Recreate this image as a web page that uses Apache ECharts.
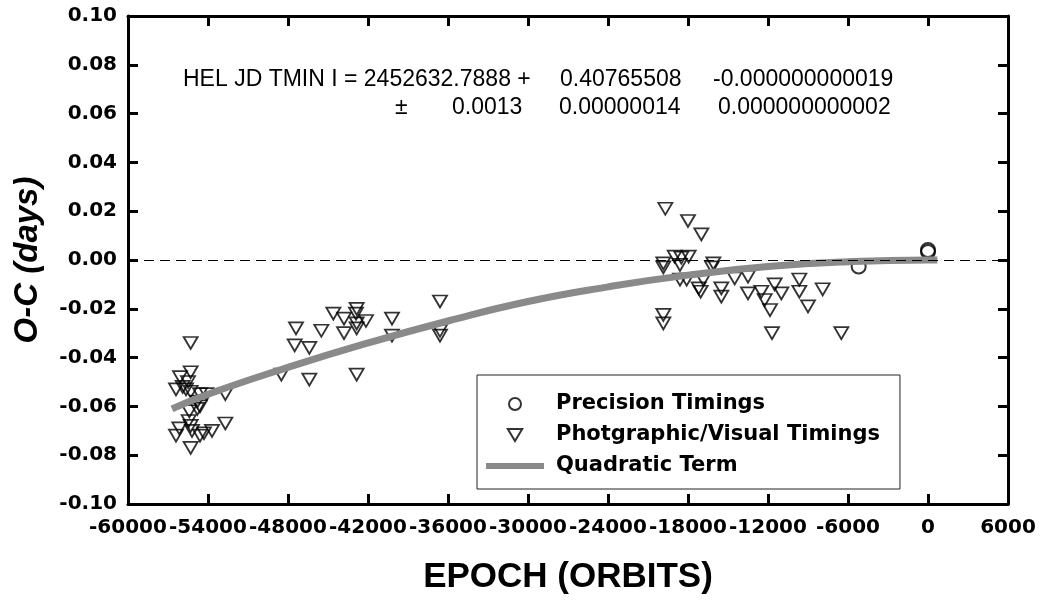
<!DOCTYPE html>
<html>
<head>
<meta charset="utf-8">
<script src="https://cdn.jsdelivr.net/npm/echarts@6/dist/echarts.min.js"></script>
<style>
  html, body { margin: 0; padding: 0; background: #fff; }
  #main { width: 1040px; height: 603px; }
</style>
</head>
<body>
<div id="main"></div>
<script>
// 精确计时（圆圈）
const precisionTimings = [
    [-5200, -0.0027], [0, 0.0041], [0, 0.0033]
]
// 照相/目视计时（倒三角）
const visualTimings = [
    [-55300, -0.034], [-55300, -0.046], [-56100, -0.048], [-55500, -0.050], [-56400, -0.053],
    [-55650, -0.053], [-55300, -0.054], [-54600, -0.055], [-54100, -0.055], [-52700, -0.055],
    [-54800, -0.058], [-54600, -0.060], [-55400, -0.062], [-54800, -0.061], [-52700, -0.067],
    [-55450, -0.066], [-55300, -0.068], [-56150, -0.069], [-56400, -0.072], [-54600, -0.072],
    [-53700, -0.070], [-54300, -0.071], [-55300, -0.077], [-55200, -0.070], [-55900, -0.052],
    [-47400, -0.028], [-45500, -0.029], [-44600, -0.022], [-43800, -0.024], [-42850, -0.020],
    [-42900, -0.022], [-42850, -0.026], [-42850, -0.028], [-42150, -0.025], [-43800, -0.030],
    [-47500, -0.035], [-46400, -0.036], [-40200, -0.024], [-40200, -0.031], [-36600, -0.017],
    [-36600, -0.029], [-36600, -0.031], [-48500, -0.047], [-46400, -0.049], [-42850, -0.047],
    [-19700, 0.021], [-18000, 0.016], [-17000, 0.0105], [-19850, -0.0014], [-19850, -0.003],
    [-19000, 0.0014], [-18500, 0.001], [-17950, 0.0014], [-18600, -0.002], [-16100, -0.0014],
    [-16200, -0.003], [-18600, -0.008], [-18100, -0.008], [-16850, -0.008], [-17200, -0.0116],
    [-17050, -0.013], [-15500, -0.0116], [-15500, -0.015], [-14500, -0.0075], [-13500, -0.0068],
    [-13500, -0.0137], [-19850, -0.0225], [-19850, -0.026], [-12500, -0.013], [-12250, -0.0164],
    [-11850, -0.0205], [-11500, -0.010], [-11000, -0.0137], [-9650, -0.008], [-9650, -0.013],
    [-9000, -0.019], [-7900, -0.012], [-11700, -0.030], [-6500, -0.030]
]
// 二次项曲线
const quadraticTerm = [
    [-56700, -0.061], [-54000, -0.055], [-48000, -0.044], [-42000, -0.034], [-36000, -0.025],
    [-30000, -0.017], [-24000, -0.011], [-18000, -0.0062], [-12000, -0.0027], [-6000, -0.0007],
    [0, 0], [700, 0]
]
const seriesNames = ['Precision Timings', 'Photgraphic/Visual Timings', 'Quadratic Term']

const boldFont = 'DejaVu Sans'
const textFont = 'Liberation Sans'
const lineGray = '#8a8a8a'

const chart = echarts.init(document.getElementById('main'))

const axisLine = { show: true, onZero: false, lineStyle: { color: '#000', width: 3 } }
const axisTick = { show: true, inside: true, length: 10, lineStyle: { color: '#000', width: 3 } }
const noteFont = '23px "Liberation Sans"'

const option = {
    backgroundColor: '#fff',
    animation: false,
    grid: { left: 128, right: 32, top: 16, bottom: 99 },
    legend: {
        data: [
            { name: seriesNames[0] },
            { name: seriesNames[1] },
            { name: seriesNames[2], icon: 'path://M0,0L58,0L58,6L0,6Z', itemStyle: { color: lineGray, borderWidth: 0 } }
        ],
        orient: 'vertical',
        left: 477,
        top: 375,
        padding: [18, 20, 12, 9],
        itemWidth: 58,
        itemHeight: 12,
        itemGap: 9,
        borderColor: '#222',
        borderWidth: 1,
        backgroundColor: '#fff',
        textStyle: {
            fontFamily: boldFont,
            fontWeight: 'bold',
            fontSize: 21,
            lineHeight: 22,
            color: '#000',
            padding: [0, 0, 0, 7]
        }
    },
    xAxis: [{
        type: 'value',
        position: 'bottom',
        min: -60000,
        max: 6000,
        interval: 6000,
        name: 'EPOCH (ORBITS)',
        nameLocation: 'middle',
        nameGap: 56,
        nameTextStyle: { fontFamily: textFont, fontWeight: 'bold', fontSize: 35, color: '#000' },
        axisLine: axisLine,
        axisTick: axisTick,
        splitLine: { show: false },
        axisLabel: {
            margin: 14,
            fontFamily: boldFont,
            fontWeight: 'bold',
            fontSize: 20,
            color: '#000',
            formatter: (v) => String(v)
        }
    }, {
        type: 'value',
        position: 'top',
        min: -60000,
        max: 6000,
        interval: 6000,
        axisLine: axisLine,
        axisTick: axisTick,
        splitLine: { show: false },
        axisLabel: { show: false }
    }],
    yAxis: [{
        type: 'value',
        position: 'left',
        min: -0.1,
        max: 0.1,
        interval: 0.02,
        name: 'O-C (days)',
        nameLocation: 'middle',
        nameRotate: 90,
        nameGap: 84,
        nameTextStyle: { fontFamily: textFont, fontWeight: 'bold', fontStyle: 'italic', fontSize: 33, color: '#000' },
        axisLine: axisLine,
        axisTick: axisTick,
        splitLine: { show: false },
        axisLabel: {
            margin: 11,
            fontFamily: boldFont,
            fontWeight: 'bold',
            fontSize: 20,
            color: '#000',
            formatter: (v) => v.toFixed(2)
        }
    }, {
        type: 'value',
        position: 'right',
        min: -0.1,
        max: 0.1,
        interval: 0.02,
        axisLine: axisLine,
        axisTick: axisTick,
        splitLine: { show: false },
        axisLabel: { show: false }
    }],
    graphic: [
        { type: 'text', left: 183, top: 68, style: { text: 'HEL JD TMIN I = 2452632.7888 +', font: noteFont, fill: '#000' } },
        { type: 'text', left: 560, top: 68, style: { text: '0.40765508', font: noteFont, fill: '#000' } },
        { type: 'text', left: 713, top: 68, style: { text: '-0.000000000019', font: noteFont, fill: '#000' } },
        { type: 'text', left: 395, top: 96, style: { text: '±', font: noteFont, fill: '#000' } },
        { type: 'text', left: 452, top: 96, style: { text: '0.0013', font: noteFont, fill: '#000' } },
        { type: 'text', left: 559, top: 96, style: { text: '0.00000014', font: noteFont, fill: '#000' } },
        { type: 'text', left: 718, top: 96, style: { text: '0.000000000002', font: noteFont, fill: '#000' } }
    ],
    series: [{
        name: seriesNames[0],
        type: 'scatter',
        data: precisionTimings,
        symbol: 'circle',
        symbolSize: 14,
        z: 3,
        itemStyle: { color: 'rgba(255,255,255,0)', borderColor: '#000', borderWidth: 2 }
    }, {
        name: seriesNames[1],
        type: 'scatter',
        data: visualTimings,
        symbol: 'path://M0,0L12,0L6,10Z',
        symbolSize: [14, 12],
        z: 3,
        itemStyle: { color: 'rgba(255,255,255,0)', borderColor: '#000', borderWidth: 1.8 },
        markLine: {
            silent: true,
            symbol: 'none',
            label: { show: false },
            lineStyle: { color: '#000', width: 1, type: [10, 6] },
            data: [{ yAxis: 0 }]
        }
    }, {
        name: seriesNames[2],
        type: 'line',
        data: quadraticTerm,
        smooth: true,
        symbol: 'none',
        z: 4,
        lineStyle: { color: lineGray, width: 7 },
        itemStyle: { color: lineGray }
    }]
}
chart.setOption(option)
</script>
</body>
</html>
